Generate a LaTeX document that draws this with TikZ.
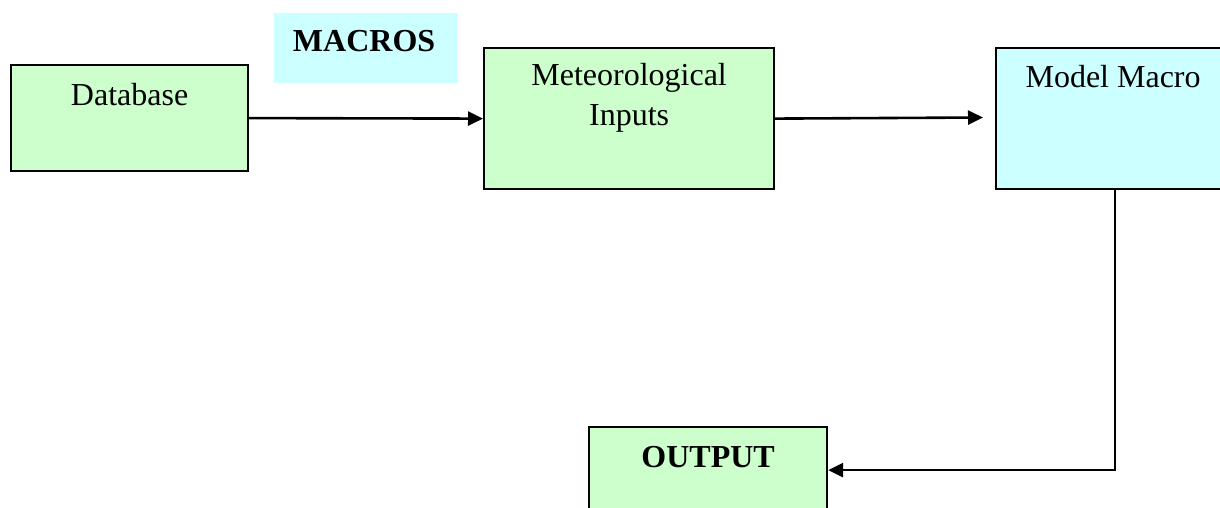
\documentclass[tikz,border=0pt]{standalone}
\usepackage{fontspec}
\setmainfont{Liberation Serif}
\usetikzlibrary{arrows.meta}
\definecolor{boxgreen}{HTML}{CCFFCC}
\definecolor{boxcyan}{HTML}{CCFFFF}
\begin{document}
\begin{tikzpicture}[x=1pt,y=-1pt,
  box/.style={draw=black, line width=2.2pt, rectangle, inner sep=0pt, anchor=north west, fill=boxgreen},
  txt/.style={font=\fontsize{32}{39.5}\selectfont, align=center, anchor=base, inner sep=0pt},
  conn/.style={line width=2.6pt, -{Triangle[length=15pt,width=14pt]}}]
\useasboundingbox (0,0) rectangle (1220,508);
\clip (0,0) rectangle (1220,508);
% boxes
\node[box, minimum width=237pt, minimum height=106pt] (db) at (10,64) {};
\node[box, draw=none, fill=boxcyan, minimum width=184pt, minimum height=70pt] (mac) at (273,12) {};
\node[box, minimum width=290pt, minimum height=141pt] (met) at (483,47) {};
\node[box, fill=boxcyan, minimum width=234pt, minimum height=141pt] (mm) at (995,47) {};
\node[box, minimum width=238pt, minimum height=86pt] (out) at (588,426) {};
% texts
\node[txt] (dbtxt) at ([yshift=-42pt]db.north) {Database};
\node[txt] (mactxt) at ([xshift=-2pt,yshift=-40pt]mac.north) {\bfseries MACROS};
\node[txt] (mettxt) at ([yshift=-78pt]met.north) {Meteorological\\Inputs};
\node[txt] (mmtxt) at ([yshift=-41pt]mm.north) {Model Macro};
\node[txt] (outtxt) at ([yshift=-41pt]out.north) {\bfseries OUTPUT};
% connectors
\coordinate (mmin) at (983,117.5);
\draw[conn] (db.east) -- (met.west);
\draw[conn] (met.east) -- (mmin);
\draw[conn] ([xshift=2pt]mm.south) |- (out.east);
\end{tikzpicture}
\end{document}
